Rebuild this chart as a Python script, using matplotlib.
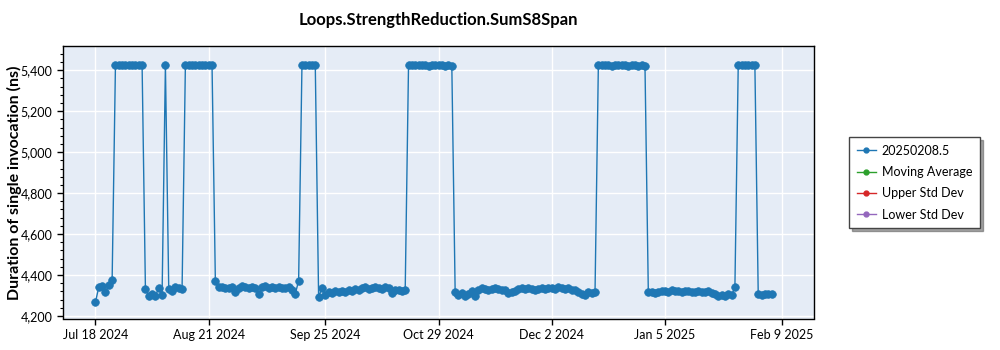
import datetime
import numpy as np
import pandas as pd
import matplotlib
matplotlib.use('Agg')
import matplotlib.pyplot as plt
import matplotlib.dates as mdates
from matplotlib.lines import Line2D
from matplotlib.ticker import FuncFormatter, MultipleLocator

plt.rcParams['font.family'] = ['Lato', 'DejaVu Sans']

title = 'Loops.StrengthReduction.SumS8Span'
series_names = ['20250208.5', 'Moving Average', 'Upper Std Dev', 'Lower Std Dev']
series_colors = ['#1f77b4', '#2ca02c', '#d62728', '#9467bd']

# one run per day, Jul 18 2024 .. Feb 6 2025 (ns)
jul = [4268, 4342, 4345, 4318, 4352, 4374,
       5426, 5424, 5427, 5425, 5423, 5426, 5425, 5424]
aug = [5425, 4330, 4300, 4306, 4298, 4336, 4302, 5424,
       4334, 4320, 4340, 4338, 4330,
       5425, 5426, 5424, 5427, 5425, 5423, 5426, 5425, 5424,
       4370, 4342, 4340, 4338, 4335, 4341, 4315, 4338, 4345]
sep = [4340, 4335, 4342, 4338, 4310, 4340, 4345, 4337, 4340, 4336,
       4341, 4338, 4335, 4340, 4325, 4308, 4372,
       5424, 5426, 5423, 5425, 5424,
       4292, 4338, 4305, 4315, 4312, 4320, 4316, 4322]
oct_ = [4318, 4325, 4320, 4330, 4328, 4335, 4340, 4332, 4338, 4342,
        4335, 4330, 4340, 4336, 4312, 4328, 4325, 4322, 4326,
        5425, 5426, 5424, 5423, 5425, 5424, 5422, 5424, 5425, 5423, 5424, 5422]
nov = [5423, 5421,
       4318, 4305, 4312, 4300, 4310, 4320, 4300, 4328, 4335, 4330,
       4325, 4332, 4336, 4330, 4328, 4325, 4312, 4318, 4322, 4330,
       4335, 4332, 4338, 4330, 4325, 4332, 4335, 4330]
dec = [4336, 4338, 4332, 4340, 4335, 4330, 4336, 4328, 4325, 4318,
       4308, 4305, 4315, 4312, 4318,
       5424, 5425, 5423, 5424, 5422, 5424, 5425, 5423, 5424, 5422,
       5423, 5424, 5422, 5423, 5421,
       4318]
jan = [4316, 4312, 4318, 4320, 4322, 4318, 4325, 4322, 4320, 4318,
       4322, 4320, 4316, 4318, 4320, 4315, 4318, 4320, 4312, 4308,
       4300, 4305, 4298, 4308, 4302, 4340,
       5424, 5425, 5423, 5424, 5425]
feb = [5424, 4310, 4305, 4308, 4306, 4307]

values = jul + aug + sep + oct_ + nov + dec + jan + feb
dates = pd.date_range('2024-07-18', periods=len(values), freq='D')

tick_dates = ['2024-07-18', '2024-08-21', '2024-09-25', '2024-10-29',
              '2024-12-02', '2025-01-05', '2025-02-09']
tick_labels = ['Jul 18 2024', 'Aug 21 2024', 'Sep 25 2024', 'Oct 29 2024',
               'Dec 2 2024', 'Jan 5 2025', 'Feb 9 2025']

fig = plt.figure(figsize=(10, 3.5), dpi=100)
ax = fig.add_axes([0.063, 0.09, 0.751, 0.778])
ax.set_facecolor('#E5ECF6')

ax.plot(dates, values, color=series_colors[0], lw=1, marker='o', ms=5.5,
        mec=series_colors[0], mew=0.5, zorder=3)

ax.set_xlim(pd.Timestamp('2024-07-08 06:00'), pd.Timestamp('2025-02-18 18:00'))
ax.set_ylim(4188, 5517)
ax.set_xticks(pd.to_datetime(tick_dates))
ax.set_xticklabels(tick_labels)
ax.yaxis.set_major_locator(MultipleLocator(200))
ax.yaxis.set_minor_locator(MultipleLocator(40))
ax.yaxis.set_major_formatter(FuncFormatter(lambda v, p: f'{v:,.0f}'))

ax.grid(True, color='white', lw=1)
ax.set_axisbelow(True)
for s in ax.spines.values():
    s.set_color('black')
    s.set_linewidth(1)
ax.tick_params(axis='both', labelsize=9, colors='black', length=4, width=1)
ax.tick_params(axis='y', which='minor', length=2, width=0.8)

ax.set_ylabel('Duration of single invocation (ns)', fontsize=11.5, fontweight='bold')
ax.yaxis.set_label_coords(-0.055, 0.5)
ax.set_title(title, fontsize=12, fontweight='bold', pad=15)

# legend keys: same small marker for every series
handles = [Line2D([], [], color=c, lw=1, marker='o', ms=3.5) for c in series_colors]
leg = fig.legend(handles, series_names, loc='upper left',
                 bbox_to_anchor=(0.843, 0.626), fontsize=9, frameon=True,
                 fancybox=False, shadow=True, edgecolor='#444444',
                 handlelength=1.5, handletextpad=0.5, borderpad=0.6,
                 labelspacing=0.75)
leg.get_frame().set_linewidth(1)

fig.savefig('out.png', dpi=100)
